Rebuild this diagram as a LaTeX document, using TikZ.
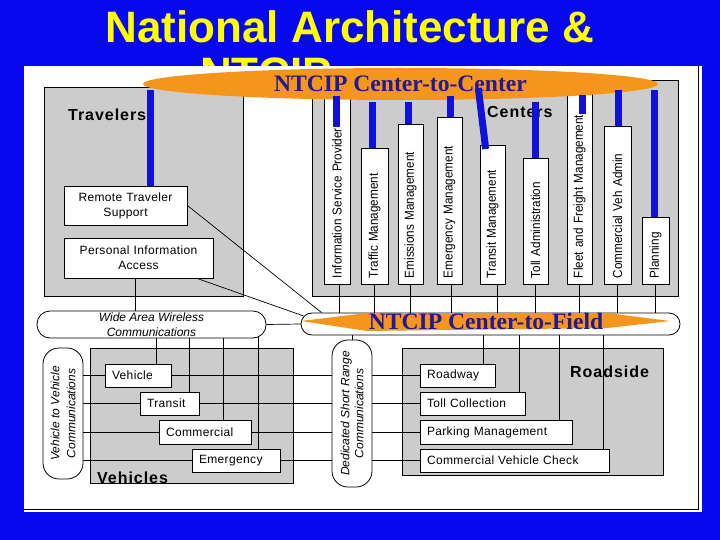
\documentclass[tikz,border=0pt]{standalone}
\usepackage{fontspec}
\setmainfont{Liberation Sans}
\newfontfamily\ntfont{Liberation Serif}
\newfontfamily\headfont[LetterSpace=6]{Liberation Sans}
\newfontfamily\lblfont[LetterSpace=3]{Liberation Sans}
\newfontfamily\vfont[FakeStretch=0.9]{Liberation Sans}
\usetikzlibrary{shapes.geometric}
\pgfdeclarelayer{back}
\pgfdeclarelayer{mid}
\pgfsetlayers{back,mid,main}
\definecolor{slideblue}{RGB}{8,8,240}
\definecolor{titleyellow}{RGB}{255,255,0}
\definecolor{boxgray}{RGB}{204,204,204}
\definecolor{barblue}{RGB}{18,18,215}
\definecolor{ntorange}{RGB}{245,150,28}
\definecolor{ntnavy}{RGB}{35,25,145}
\begin{document}
\begin{tikzpicture}[x=1pt,y=-1pt,
  conn/.style={draw=black,line width=0.7pt},
  bar/.style={draw=barblue,line width=7pt},
  graybox/.style={draw=black,fill=boxgray,line width=0.8pt,inner sep=0pt,rectangle},
  wbox/.style={draw=black,fill=white,line width=0.8pt,inner xsep=7pt,inner ysep=0pt,font=\lblfont\fontsize{12}{15}\selectfont},
  lbox/.style={wbox,align=left},
  cbox/.style={wbox,align=center},
  vbox/.style={draw=black,fill=white,line width=0.8pt,rotate=90,inner xsep=6pt,inner ysep=0pt,align=left,font=\vfont\fontsize{13}{14}\selectfont},
  stad/.style={draw=black,fill=white,line width=0.8pt,inner sep=0pt,align=center,font=\itshape\fontsize{12}{14.5}\selectfont},
  head/.style={anchor=base west,inner sep=0pt,font=\headfont\bfseries\fontsize{16}{18}\selectfont},
  ntlabel/.style={text=ntnavy,inner sep=0pt,font=\ntfont\bfseries\fontsize{23.6}{26}\selectfont},
  ]
\useasboundingbox (0,0) rectangle (720,540);

\begin{pgfonlayer}{back}
\fill[slideblue] (0,0) rectangle (720,540);
\node[anchor=base,inner sep=0pt,text=titleyellow,font=\bfseries\fontsize{44}{46}\selectfont] (title1) at (350,43) {National Architecture \&};
\node[anchor=base west,inner sep=0pt,text=titleyellow,font=\bfseries\fontsize{44}{46}\selectfont] (title2) at (200,89) {NTCIP};
\fill[white] (24,66) rectangle (702,512);
\draw[line width=1pt] (698,66) -- (698,509) -- (24,509);
% gray group boxes
\node[graybox,minimum width=199pt,minimum height=209pt] (travelers) at (143.5,191.5) {};
\node[graybox,minimum width=366pt,minimum height=216pt] (centers) at (495,188) {};
\node[graybox,minimum width=203pt,minimum height=135pt] (vehicles) at (191.5,415.5) {};
\node[graybox,minimum width=261pt,minimum height=127pt] (roadside) at (532.5,411.5) {};
\node[head] (travhead) at (68,121) {Travelers};
\node[head] (centhead) at (487,118) {Centers};
\node[head] (vehhead) at (97,483) {Vehicles};
\node[head] (roadhead) at (570,377) {Roadside};
\end{pgfonlayer}

% travelers
\node[cbox,text width=109pt,minimum height=39pt] (rts) at (125.5,205.5) {Remote Traveler\\Support};
\node[cbox,text width=135pt,minimum height=40pt] (pia) at (138.5,258) {Personal Information\\Access};

% centers
\node[vbox,text width=180pt,minimum height=26pt] (isp) at (337,188) {Information Service Provider};
\node[vbox,text width=124pt,minimum height=27pt] (traffic) at (374.5,216) {Traffic Management};
\node[vbox,text width=148pt,minimum height=25pt] (emis) at (410.5,204) {Emissions Management};
\node[vbox,text width=155pt,minimum height=25pt] (emer) at (449.5,200.5) {Emergency Management};
\node[vbox,text width=127pt,minimum height=25pt] (transit) at (492.5,214.5) {Transit Management};
\node[vbox,text width=114pt,minimum height=25pt] (toll) at (535.5,221) {Toll Administration};
\node[vbox,text width=180pt,minimum height=25pt] (fleet) at (579.5,188) {Fleet and Freight Management};
\node[vbox,text width=146pt,minimum height=27pt] (cva) at (617.5,205) {Commercial Veh Admin};
\node[vbox,text width=55pt,minimum height=27pt] (plan) at (655.5,250.5) {Planning};

% communications
\node[stad,minimum width=229pt,minimum height=27pt,rounded corners=13pt] (wide) at (151.5,324.5) {Wide Area Wireless\\Communications};
\node[stad,rotate=90,minimum width=131pt,minimum height=40pt,rounded corners=16pt,font=\itshape\fontsize{12}{16}\selectfont] (v2v) at (63,413.5) {Vehicle to Vehicle\\Communications};
\node[stad,rotate=90,minimum width=147pt,minimum height=40pt,rounded corners=16pt,font=\itshape\fontsize{12}{14}\selectfont] (dsrc) at (352,413.5) {Dedicated Short Range\\Communications};
\node[stad,minimum width=379pt,minimum height=22pt,rounded corners=11pt] (ctf) at (490.5,324) {};
\fill[ntorange] (301,321) -- (367,313) -- (607,313) -- (670,321) -- (607,328) -- (367,331) -- cycle;
\node[ntlabel] (ctftext) at (486,321) {NTCIP Center-to-Field};

% vehicles
\node[lbox,text width=52pt,minimum height=23pt] (veh) at (138,375.5) {Vehicle};
\node[lbox,text width=45pt,minimum height=23pt] (transitv) at (169.5,403.5) {Transit};
\node[lbox,text width=78pt,minimum height=24pt] (comm) at (205,432) {Commercial};
\node[lbox,text width=74pt,minimum height=23pt] (emerg) at (236,460.5) {Emergency};

% roadside
\node[lbox,text width=61pt,minimum height=23pt] (road) at (457.5,375.5) {Roadway};
\node[lbox,text width=91pt,minimum height=23pt] (tollc) at (472.5,403.5) {Toll Collection};
\node[lbox,text width=138pt,minimum height=24pt] (park) at (496,432) {Parking Management};
\node[lbox,text width=175pt,minimum height=23pt] (cvc) at (514.5,460.5) {Commercial Vehicle Check};

% center-to-center
\node[ellipse,fill=ntorange,inner sep=0pt,minimum width=515pt,minimum height=32pt,ntlabel] (cc) at (400.5,84) {NTCIP Center-to-Center};

% blue links to center-to-center
\coordinate (bTrav) at (150.5,90);
\coordinate (bIspT) at (336.5,96);
\coordinate (bIspB) at (336.5,127);
\coordinate (bTraf) at (372.3,102);
\coordinate (bEmis) at (408.7,102);
\coordinate (bEmer) at (450.3,96);
\coordinate (bTrsT) at (478.3,88);
\coordinate (bTrsB) at (485.7,149);
\coordinate (bToll) at (535,102);
\coordinate (bFltT) at (582.7,95);
\coordinate (bFltB) at (582.7,114);
\coordinate (bCva) at (618.3,90);
\coordinate (bPlan) at (654.3,90);
\draw[bar] (bTrav) -- (bTrav |- rts.north);
\draw[bar] (bIspT) -- (bIspB);
\draw[bar] (bTraf) -- (bTraf |- traffic.east);
\draw[bar] (bEmis) -- (bEmis |- emis.east);
\draw[bar] (bEmer) -- (bEmer |- emer.east);
\draw[bar] (bTrsT) -- (bTrsB);
\draw[bar] (bToll) -- (bToll |- toll.east);
\draw[bar] (bFltT) -- (bFltB);
\draw[bar] (bCva) -- (bCva |- cva.east);
\draw[bar] (bPlan) -- (bPlan |- plan.east);

% thin connectors
\begin{pgfonlayer}{mid}
\draw[conn] (rts.east) -- ([xshift=21pt]ctf.north west);
\draw[conn] ([xshift=58.5pt]pia.south) -- ([xshift=3pt,yshift=8pt]ctf.west);
\draw[conn] ([xshift=-3.5pt]pia.south) -- ([xshift=-3.5pt]pia.south |- wide.center);
\draw[conn] (wide.east) -- (ctf.west);
\foreach \n/\s in {isp/2,traffic/0,emis/0,emer/1.5,transit/4.5,toll/0,fleet/0,cva/0,plan/0}
  \draw[conn] ([xshift=\s pt]\n.west) -- ([xshift=\s pt]\n.west |- ctf.center);
\draw[conn] (dsrc.east) -- (dsrc.east |- ctf.center);
\foreach \n/\s in {veh/-15,transitv/-10,comm/-28,emerg/-22}
  \draw[conn] ([xshift=\s pt]\n.north east) -- ([xshift=\s pt]\n.north east |- wide.center);
\foreach \n in {veh,transitv,comm,emerg}
  \draw[conn] (v2v.south |- \n.center) -- (dsrc.north |- \n.center);
\foreach \n/\s in {road/-12,tollc/-6,park/-13,cvc/-6}
  \draw[conn] ([xshift=\s pt]\n.north east) -- ([xshift=\s pt]\n.north east |- ctf.center);
\foreach \n in {road,tollc,park,cvc}
  \draw[conn] (dsrc.south |- \n.center) -- (\n.west);
\end{pgfonlayer}
\end{tikzpicture}
\end{document}
